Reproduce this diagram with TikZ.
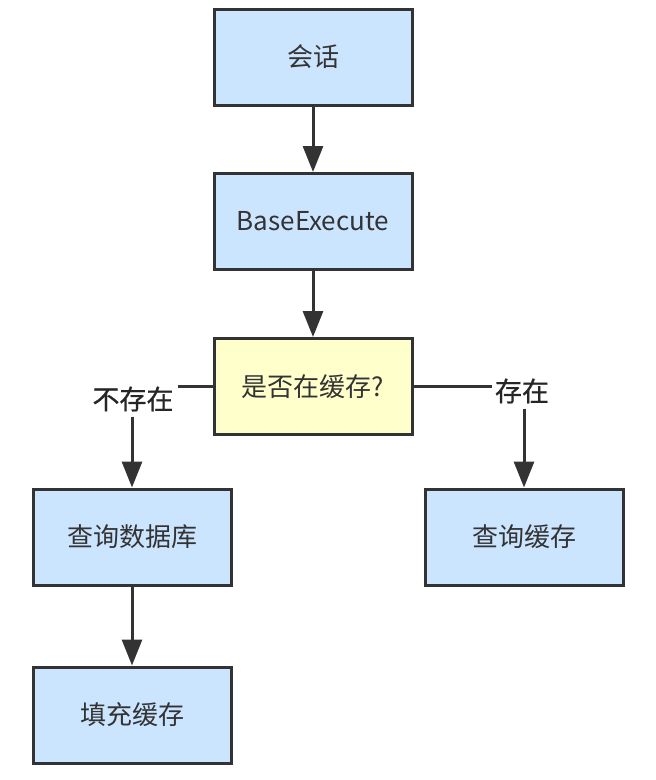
\documentclass[tikz,border=0pt]{standalone}
\usepackage{fontspec}
\setmainfont{Noto Sans CJK SC}
\newfontfamily\lblfont[FakeBold=0.8]{Noto Sans CJK SC}
\usetikzlibrary{arrows.meta}
\definecolor{boxblue}{HTML}{CCE5FF}
\definecolor{boxyellow}{HTML}{FFFFCC}
\definecolor{edge}{HTML}{333333}
\tikzset{
  flowbox/.style={draw=edge, line width=3pt, fill=boxblue, minimum width=198pt, minimum height=96pt, inner sep=0pt, font=\fontsize{26}{30}\selectfont, text=edge},
  decbox/.style={flowbox, fill=boxyellow},
  lbl/.style={font=\lblfont\fontsize{27}{30}\selectfont, text=black!85, inner sep=5pt},
  conn/.style={draw=edge, line width=3pt},
  arr/.style={conn, -{Triangle[length=26pt,width=20pt]}},
}
\begin{document}
\begin{tikzpicture}[x=1pt,y=-1pt]
\useasboundingbox (0,0) rectangle (656,780);
\node[flowbox] (s) at (313,57) {会话};
\node[flowbox] (b) at (313,221.5) {BaseExecute};
\node[decbox] (q) at (313,386.5) {是否在缓存?};
\node[flowbox] (db) at (132,537) {查询数据库};
\node[flowbox] (c) at (524,537) {查询缓存};
\node[flowbox] (f) at (132,715) {填充缓存};
\node[lbl] (nl) at (133,399) {不存在};
\node[lbl] (yl) at (522,391) {存在};
\draw[arr] (s) -- (b);
\draw[arr] (b) -- (q);
\draw[arr] (db) -- (f);
\coordinate (nle) at (178,386.5);
\coordinate (yle) at (492,386.5);
\draw[conn] (q.west) -- (nle);
\draw[conn] (q.east) -- (yle);
\draw[arr] (db.north |- nl.south) -- (db.north);
\draw[arr] (c.north |- yl.south) -- (c.north);
\end{tikzpicture}
\end{document}
